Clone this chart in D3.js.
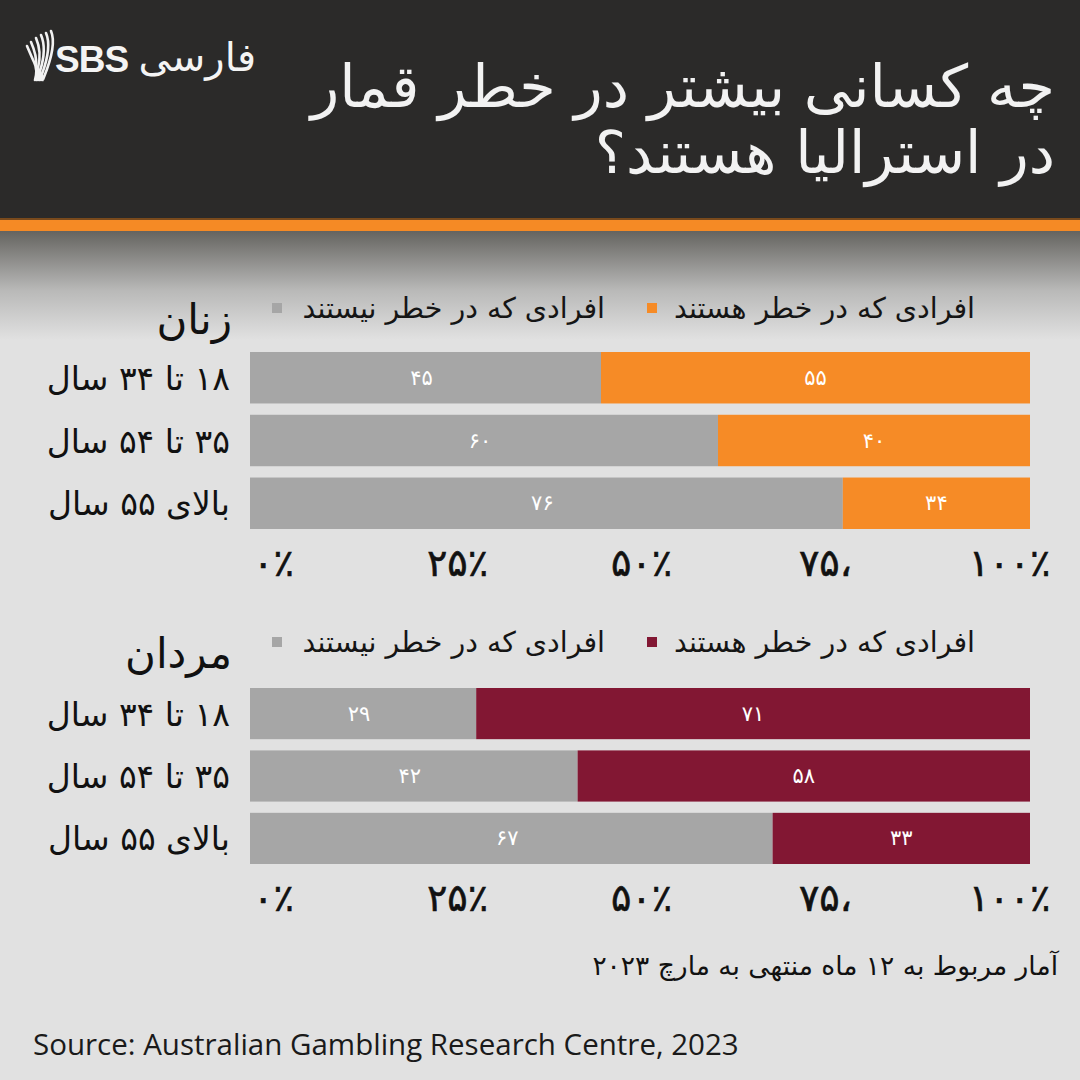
<!DOCTYPE html>
<html>
<head>
<meta charset="utf-8">
<script src="https://cdn.jsdelivr.net/npm/d3@7"></script>
<style>
  body { margin: 0; background: #e1e1e1; }
  svg { display: block; }
</style>
</head>
<body>
<svg id="chart" width="1080" height="1080"></svg>
<script>
// data
const ageGroups = ["۱۸ تا ۳۴ سال", "۳۵ تا ۵۴ سال", "بالای ۵۵ سال"];
const womenNotAtRisk = [45, 60, 76];
const womenAtRisk = [55, 40, 34];
const menNotAtRisk = [29, 42, 67];
const menAtRisk = [71, 58, 33];
const tickValues = [0, 25, 50, 75, 100];
const tickLabels = ["۰٪", "۲۵٪", "۵۰٪", "۷۵،", "۱۰۰٪"];
const legendLabels = ["افرادی که در خطر هستند", "افرادی که در خطر نیستند"];
const titleLines = ["چه کسانی بیشتر در خطر قمار", "در استرالیا هستند؟"];

const FA = "'DejaVu Sans', sans-serif";
const GRAY = "#a6a6a6";

function faDigits(n) {
  return String(n).replace(/\d/g, d => "۰۱۲۳۴۵۶۷۸۹"[d]);
}

const svg = d3.select("#chart");

// background + header
svg.append("rect").attr("width", 1080).attr("height", 1080).attr("fill", "#e1e1e1");

const defs = svg.append("defs");
const grad = defs.append("linearGradient").attr("id", "fade")
  .attr("x1", 0).attr("y1", 0).attr("x2", 0).attr("y2", 1);
grad.append("stop").attr("offset", 0).attr("stop-color", "#63625e");
grad.append("stop").attr("offset", 0.55).attr("stop-color", "#b9b9b8");
grad.append("stop").attr("offset", 1).attr("stop-color", "#e1e1e1");
svg.append("rect").attr("x", 0).attr("y", 230).attr("width", 1080).attr("height", 110)
  .attr("fill", "url(#fade)");

svg.append("rect").attr("width", 1080).attr("height", 218).attr("fill", "#2b2a29");
svg.append("rect").attr("y", 218).attr("width", 1080).attr("height", 13).attr("fill", "#f58a25");
svg.append("rect").attr("y", 218).attr("width", 1080).attr("height", 2).attr("fill", "#7a4a1c");

// logo
const logo = svg.append("g").attr("fill", "none").attr("stroke", "#f2f2f2")
  .attr("stroke-width", 2.6).attr("stroke-linecap", "round");
[[27, 46], [31, 42], [36, 38], [41, 35], [46, 33], [51, 31]].forEach((p, i) => {
  logo.append("path")
    .attr("d", `M${p[0]},${p[1]} Q${p[0] + 6},${p[1] + 14} ${34 + i * 2},${62 + i * 3} Q${38 + i},${70 + i} ${35 + i * 1.5},${80}`);
});
svg.append("text").attr("x", 55).attr("y", 72)
  .attr("font-family", "'Liberation Sans', Arial, sans-serif").attr("font-weight", "bold")
  .attr("font-size", 37).attr("fill", "#f4f4f4").attr("letter-spacing", -1).text("SBS");
svg.append("text").attr("x", 256).attr("y", 71)
  .attr("direction", "rtl").attr("text-anchor", "start")
  .attr("font-family", FA).attr("font-size", 40).attr("fill", "#f4f4f4").text("فارسی");

// title
svg.selectAll("text.title").data(titleLines).join("text")
  .attr("class", "title")
  .attr("x", 1055).attr("y", (d, i) => 107 + i * 66)
  .attr("direction", "rtl").attr("text-anchor", "start")
  .attr("font-family", FA).attr("font-size", 59).attr("fill", "#f2f2f2")
  .text(d => d);

// panels
const x = d3.scaleLinear().domain([0, 100]).range([250, 1030]);
const tickScale = d3.scaleLinear().domain([0, 100]).range([273, 1009]);

const panels = [
  { title: "زنان", notAt: womenNotAtRisk, at: womenAtRisk, color: "#f68b26",
    top: 352, bottom: 529, legendY: 318, titleY: 334, axisY: 546 },
  { title: "مردان", notAt: menNotAtRisk, at: menAtRisk, color: "#821733",
    top: 688, bottom: 864, legendY: 652, titleY: 668, axisY: 881 }
];

panels.forEach(p => {
  const g = svg.append("g");
  const y = d3.scaleBand().domain(ageGroups).range([p.top, p.bottom]).paddingInner(0.18);

  // section title
  g.append("text").attr("x", 232).attr("y", p.titleY)
    .attr("direction", "rtl").attr("text-anchor", "start")
    .attr("font-family", FA).attr("font-size", 42).attr("fill", "#111")
    .text(p.title);

  // legend
  const legendItems = [
    { label: legendLabels[0], color: p.color, right: 975, sq: 647 },
    { label: legendLabels[1], color: GRAY, right: 605, sq: 272 }
  ];
  legendItems.forEach(l => {
    g.append("text").attr("x", l.right).attr("y", p.legendY)
      .attr("direction", "rtl").attr("text-anchor", "start")
      .attr("font-family", FA).attr("font-size", 28.5).attr("fill", "#151515")
      .text(l.label);
    g.append("rect").attr("x", l.sq).attr("y", p.legendY - 15)
      .attr("width", 10).attr("height", 10).attr("fill", l.color);
  });

  // category labels
  g.selectAll("text.cat").data(ageGroups).join("text")
    .attr("class", "cat")
    .attr("x", 230).attr("y", d => y(d) + y.bandwidth() / 2 + 12)
    .attr("direction", "rtl").attr("text-anchor", "start")
    .attr("font-family", FA).attr("font-size", 33).attr("fill", "#111")
    .text(d => d);

  const rows = ageGroups.map((a, i) => ({ age: a, notAt: p.notAt[i], at: p.at[i] }));

  // gray part (not at risk)
  g.selectAll("rect.no").data(rows).join("rect")
    .attr("class", "no")
    .attr("x", x(0)).attr("y", d => y(d.age))
    .attr("width", d => x(d.notAt) - x(0)).attr("height", y.bandwidth())
    .attr("fill", GRAY);
  // coloured part (at risk), filled to the end of the bar
  g.selectAll("rect.yes").data(rows).join("rect")
    .attr("class", "yes")
    .attr("x", d => x(d.notAt)).attr("y", d => y(d.age))
    .attr("width", d => x(100) - x(d.notAt)).attr("height", y.bandwidth())
    .attr("fill", p.color);

  // value labels
  g.selectAll("text.vno").data(rows).join("text")
    .attr("class", "vno")
    .attr("x", d => (x(0) + x(d.notAt)) / 2 - 4)
    .attr("y", d => y(d.age) + y.bandwidth() / 2 + 7)
    .attr("text-anchor", "middle").attr("font-family", FA).attr("font-size", 21)
    .attr("fill", "#fff").text(d => faDigits(d.notAt));
  g.selectAll("text.vyes").data(rows).join("text")
    .attr("class", "vyes")
    .attr("x", d => (x(d.notAt) + x(100)) / 2)
    .attr("y", d => y(d.age) + y.bandwidth() / 2 + 7)
    .attr("text-anchor", "middle").attr("font-family", FA).attr("font-size", 21)
    .attr("fill", "#fff").text(d => faDigits(d.at));

  // axis
  const axis = g.append("g").attr("transform", `translate(0,${p.axisY})`)
    .call(d3.axisBottom(tickScale).tickValues(tickValues)
      .tickFormat((d, i) => tickLabels[i]).tickSize(0).tickPadding(0));
  axis.select(".domain").remove();
  axis.selectAll("text").attr("font-family", FA).attr("font-size", 38)
    .attr("fill", "#111").attr("stroke", "#111").attr("stroke-width", 0.6)
    .attr("dy", "0.8em");
});

// notes
svg.append("text").attr("x", 1058).attr("y", 975)
  .attr("direction", "rtl").attr("text-anchor", "start")
  .attr("font-family", FA).attr("font-size", 26.5).attr("fill", "#111")
  .text("آمار مربوط به ۱۲ ماه منتهی به مارچ ۲۰۲۳");

svg.append("text").attr("x", 33).attr("y", 1055)
  .attr("font-family", "'Open Sans', sans-serif").attr("font-size", 29.5).attr("fill", "#1a1a1a")
  .text("Source: Australian Gambling Research Centre, 2023");
</script>
</body>
</html>
